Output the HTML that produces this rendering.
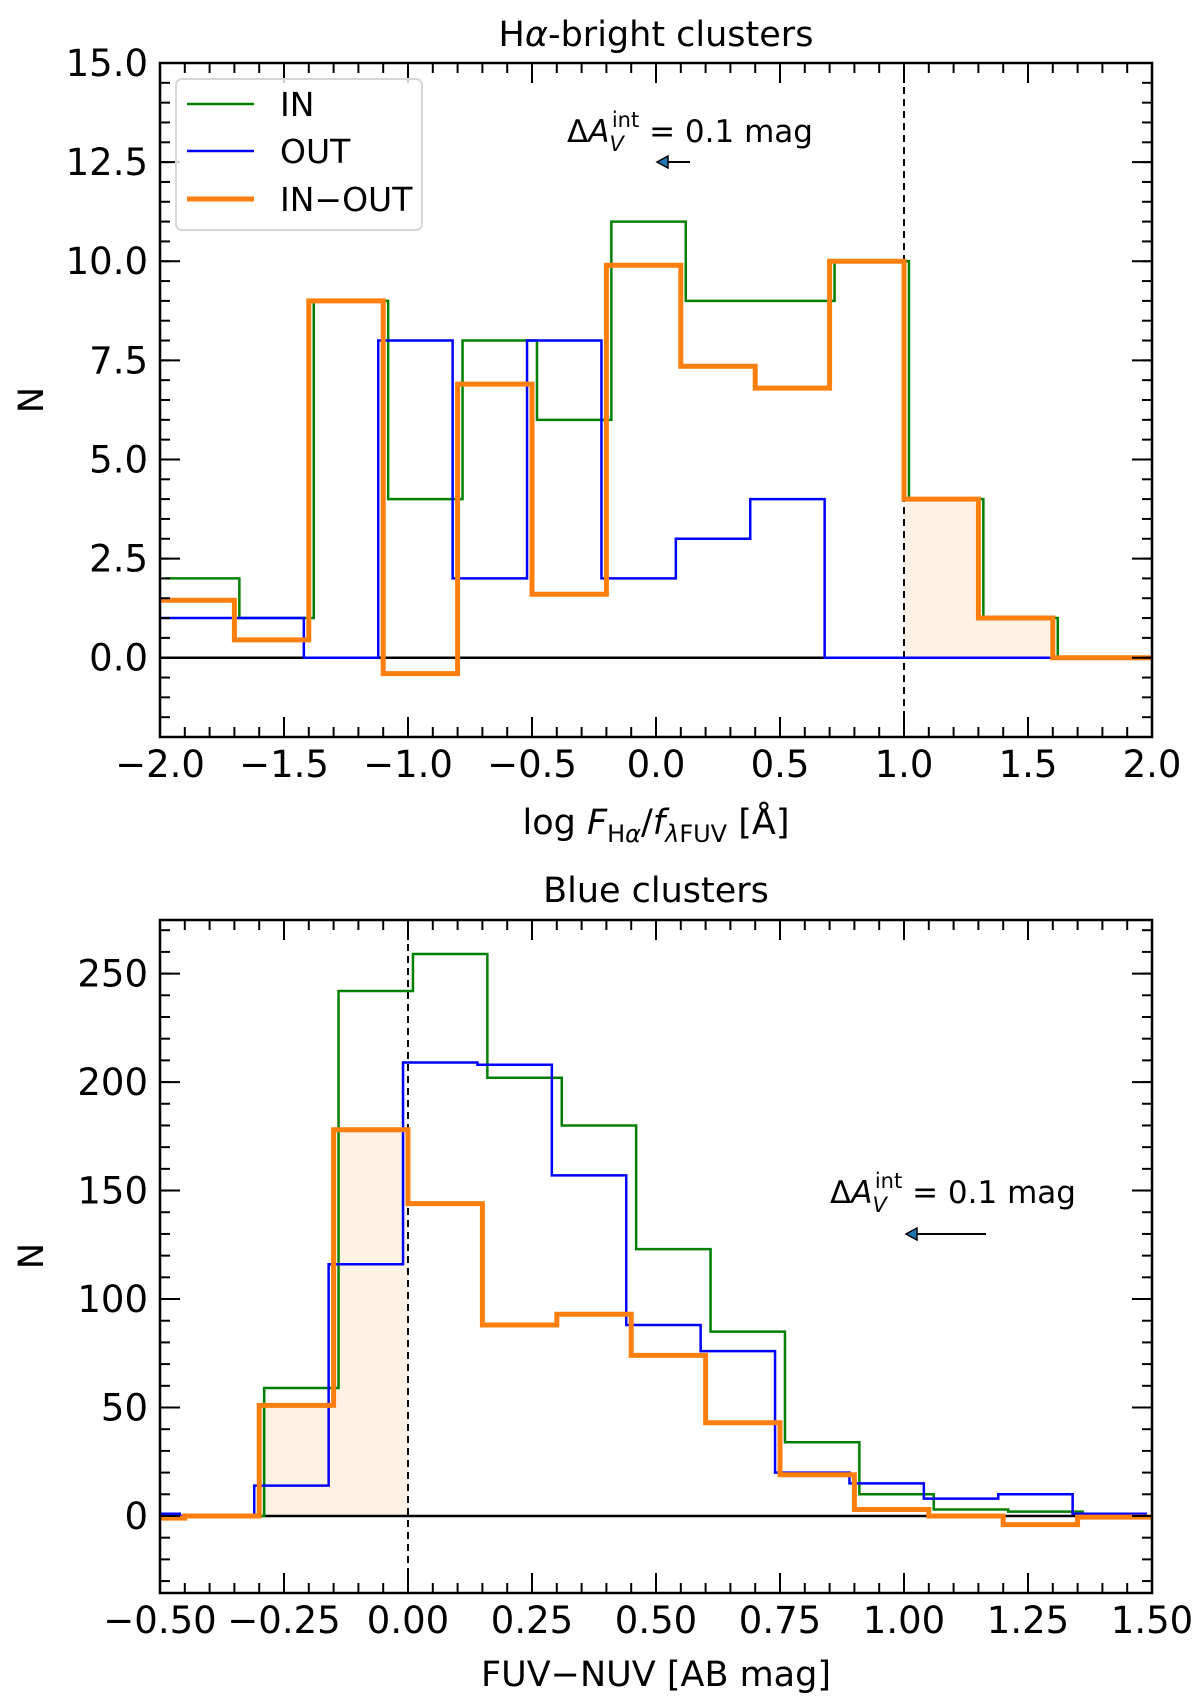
<!DOCTYPE html>
<html><head><meta charset="utf-8"><style>
html,body{margin:0;padding:0;background:#fff;}
svg{display:block;font-family:"DejaVu Sans","Liberation Sans",sans-serif;}
</style></head><body>
<svg id="fig" width="1200" height="1697" viewBox="0 0 1200 1697" xmlns="http://www.w3.org/2000/svg">
<defs>
<clipPath id="c1"><rect x="160" y="63" width="992" height="674"/></clipPath>
<clipPath id="c2"><rect x="160" y="920" width="992" height="673"/></clipPath>
</defs>
<text x="656" y="46" font-size="35" text-anchor="middle">H<tspan font-style="italic">α</tspan>-bright clusters</text>
<text x="656" y="902" font-size="35" text-anchor="middle">Blue clusters</text>
<text x="656" y="834" font-size="35" text-anchor="middle">log <tspan font-style="italic">F</tspan><tspan font-size="24" dy="8">H<tspan font-style="italic">α</tspan></tspan><tspan dy="-8">/</tspan><tspan font-style="italic">f</tspan><tspan font-size="24" dy="8"><tspan font-style="italic">λ</tspan>FUV</tspan><tspan dy="-8"> [Å]</tspan></text>
<text x="656" y="1686" font-size="35" text-anchor="middle">FUV−NUV [AB mag]</text>
<text transform="translate(43,400) rotate(-90)" font-size="35" text-anchor="middle">N</text>
<text transform="translate(43,1256) rotate(-90)" font-size="35" text-anchor="middle">N</text>
<g id="p1"></g>
<g id="p2"></g>
<g>
<rect x="176" y="79" width="246" height="151" rx="6" fill="#fff" fill-opacity="0.8" stroke="#d6d6d6" stroke-width="2"/>
<line x1="187" y1="104" x2="254" y2="104" stroke="green" stroke-width="2.5"/>
<text x="280" y="116" font-size="33">IN</text>
<line x1="187" y1="151" x2="254" y2="151" stroke="blue" stroke-width="2.5"/>
<text x="280" y="163" font-size="33">OUT</text>
<line x1="187" y1="199" x2="254" y2="199" stroke="#ff7f0e" stroke-width="5"/>
<text x="280" y="211" font-size="33">IN−OUT</text>
</g>
<g>
<text x="690" y="142" font-size="31" text-anchor="middle">Δ<tspan font-style="italic">A</tspan><tspan font-size="21" font-style="italic" dy="9">V</tspan><tspan font-size="21" dx="-12" dy="-24">int</tspan><tspan dy="15"> = 0.1 mag</tspan></text>
<line x1="690" y1="162" x2="666" y2="162" stroke="#000" stroke-width="2"/>
<polygon points="657,162 668,156 668,168" fill="#1f77b4" stroke="#000" stroke-width="1.5"/>
</g>
<g>
<text x="953" y="1203" font-size="31" text-anchor="middle">Δ<tspan font-style="italic">A</tspan><tspan font-size="21" font-style="italic" dy="9">V</tspan><tspan font-size="21" dx="-12" dy="-24">int</tspan><tspan dy="15"> = 0.1 mag</tspan></text>
<line x1="986" y1="1234" x2="915" y2="1234" stroke="#000" stroke-width="2"/>
<polygon points="906,1234 917,1228 917,1240" fill="#1f77b4" stroke="#000" stroke-width="1.5"/>
</g>
</svg>
<script>
// ---- top panel data ----
const topEdges = [-2.0,-1.7,-1.4,-1.1,-0.8,-0.5,-0.2,0.1,0.4,0.7,1.0,1.3,1.6,2.0];
const topIn = [2,1,9,4,8,6,11,9,9,10,4,1,0];
const topOut = [1,1,0,8,2,8,2,3,4,0,0,0,0];
const topDiff = [1.45,0.45,9,-0.4,6.9,1.6,9.9,7.35,6.8,10,4,1,0];
const topXTicks = [-2.0,-1.5,-1.0,-0.5,0.0,0.5,1.0,1.5,2.0];
const topXTickLabels = ["−2.0","−1.5","−1.0","−0.5","0.0","0.5","1.0","1.5","2.0"];
const topYTicks = [0,2.5,5,7.5,10,12.5,15];
const topYTickLabels = ["0.0","2.5","5.0","7.5","10.0","12.5","15.0"];
const topFillBins = [10,11];
const topDashX = 1.0;
// ---- bottom panel data ----
const botEdges = [-0.6,-0.45,-0.3,-0.15,0,0.15,0.3,0.45,0.6,0.75,0.9,1.05,1.2,1.35,1.5];
const botIn = [0,0,59,242,259,202,180,123,85,34,10,3,2,0];
const botOut = [1,0,14,116,209,208,157,88,76,20,15,8,10,1];
const botDiff = [-1,0,51,178,144,88,93,74,43,19,3,0,-4,-0.5];
const botXTicks = [-0.5,-0.25,0,0.25,0.5,0.75,1.0,1.25,1.5];
const botXTickLabels = ["−0.50","−0.25","0.00","0.25","0.50","0.75","1.00","1.25","1.50"];
const botYTicks = [0,50,100,150,200,250];
const botYTickLabels = ["0","50","100","150","200","250"];
const botFillBins = [2,3];
const botDashX = 0.0;

const NS="http://www.w3.org/2000/svg";
function mk(parent,tag,attrs){const e=document.createElementNS(NS,tag);for(const k in attrs)e.setAttribute(k,attrs[k]);parent.appendChild(e);return e;}

function panel(g,cfg){
  const {x0,x1,y0,y1,xmin,xmax,ymin,ymax,clip}=cfg;
  const sx=v=>x0+(v-xmin)/(xmax-xmin)*(x1-x0);
  const sy=v=>y1-(v-ymin)/(ymax-ymin)*(y1-y0);
  const cg=mk(g,'g',{'clip-path':'url(#'+clip+')'});
  let d='';
  cfg.fillBins.forEach(i=>{const a=sx(cfg.edges[i]),b=sx(cfg.edges[i+1]);d+=`M${a},${sy(0)}L${a},${sy(cfg.diff[i])}L${b},${sy(cfg.diff[i])}L${b},${sy(0)}Z`;});
  const f=mk(cg,'path',{d:d,fill:'#fff1e3',stroke:'none'});
  
  
  const zl=mk(cg,'line',{x1:x0,x2:x1,y1:sy(0),y2:sy(0),stroke:'#000','stroke-width':2.5});
  
  
  const dl=mk(cg,'line',{x1:sx(cfg.dash),x2:sx(cfg.dash),y1:y0,y2:y1,stroke:'#000','stroke-width':2,'stroke-dasharray':'7,5'});
  
  
  function step(vals,off,color,w,name){
    let p='';
    vals.forEach((v,i)=>{const a=sx(cfg.edges[i]+off),b=sx(cfg.edges[i+1]+off);p+=(i?'L':'M')+a+','+sy(v)+'L'+b+','+sy(v);});
    const e=mk(cg,'path',{d:p,fill:'none',stroke:color,'stroke-width':w,'stroke-linejoin':'miter'});
    
    
  }
  step(cfg.inV,cfg.offIn,'green',2.5,'in-histogram');
  step(cfg.outV,cfg.offOut,'blue',2.5,'out-histogram');
  step(cfg.diff,0,'#ff7f0e',5,'in-minus-out-histogram');
  const fr=mk(g,'rect',{x:x0,y:y0,width:x1-x0,height:y1-y0,fill:'none',stroke:'#000','stroke-width':2.5});
  
  
  const tg=mk(g,'g',{stroke:'#000','stroke-width':2});
  const eps=1e-6;
  for(let v=xmin;v<=xmax+eps;v+=cfg.xminor){const X=sx(v);mk(tg,'line',{x1:X,x2:X,y1:y1,y2:y1-10});mk(tg,'line',{x1:X,x2:X,y1:y0,y2:y0+10});}
  for(let k=Math.ceil((ymin-eps)/cfg.yminor);k*cfg.yminor<=ymax+eps;k++){const Y=sy(k*cfg.yminor);mk(tg,'line',{x1:x0,x2:x0+10,y1:Y,y2:Y});mk(tg,'line',{x1:x1,x2:x1-10,y1:Y,y2:Y});}
  cfg.xt.forEach((v,i)=>{const X=sx(v);mk(tg,'line',{x1:X,x2:X,y1:y1,y2:y1-20});mk(tg,'line',{x1:X,x2:X,y1:y0,y2:y0+20});
    const t=mk(g,'text',{x:X,y:y1+40,'font-size':37,'text-anchor':'middle'});t.textContent=cfg.xl[i];
    
    });
  cfg.yt.forEach((v,i)=>{const Y=sy(v);mk(tg,'line',{x1:x0,x2:x0+20,y1:Y,y2:Y});mk(tg,'line',{x1:x1,x2:x1-20,y1:Y,y2:Y});
    const t=mk(g,'text',{x:x0-12,y:Y+13,'font-size':37,'text-anchor':'end'});t.textContent=cfg.yl[i];
    
    });
}
panel(document.getElementById('p1'),{x0:160,x1:1152,y0:63,y1:737,xmin:-2,xmax:2,ymin:-2,ymax:15,clip:'c1',
 edges:topEdges,inV:topIn,outV:topOut,diff:topDiff,offIn:0.02,offOut:-0.02,fillBins:topFillBins,dash:topDashX,
 xminor:0.1,yminor:0.5,xt:topXTicks,xl:topXTickLabels,yt:topYTicks,yl:topYTickLabels});
panel(document.getElementById('p2'),{x0:160,x1:1152,y0:920,y1:1593,xmin:-0.5,xmax:1.5,ymin:-35.5,ymax:274.7,clip:'c2',
 edges:botEdges,inV:botIn,outV:botOut,diff:botDiff,offIn:0.01,offOut:-0.01,fillBins:botFillBins,dash:botDashX,
 xminor:0.05,yminor:10,xt:botXTicks,xl:botXTickLabels,yt:botYTicks,yl:botYTickLabels});
</script>
</body></html>
